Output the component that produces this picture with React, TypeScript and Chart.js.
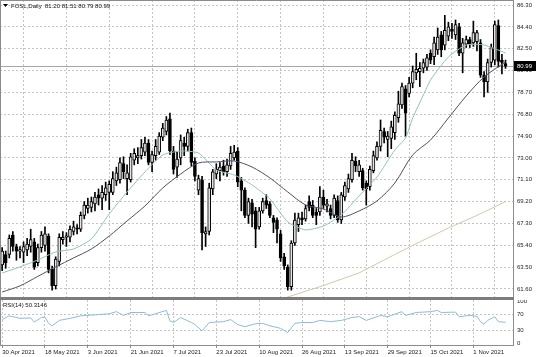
import React, { useEffect, useRef } from 'react';
import { Chart, registerables } from 'chart.js';

Chart.register(...registerables);

// ---------- data ----------
const SYMBOL = 'FOSL,Daily';

const DATE_IDX = [0, 12, 24, 36, 48, 60, 72, 84, 96, 108, 120, 132];
const DATE_LABELS = [
  '30 Apr 2021', '18 May 2021', '3 Jun 2021', '21 Jun 2021', '7 Jul 2021', '23 Jul 2021',
  '10 Aug 2021', '26 Aug 2021', '13 Sep 2021', '29 Sep 2021', '15 Oct 2021', '1 Nov 2021',
];

const OPEN = [
  63.7, 64.6, 64.6, 66.3, 65.3, 64.9, 64.8, 65.0, 65.3, 65.7,
  63.9, 65.2, 65.4, 66.2, 63.3, 61.9, 64.0, 65.9, 66.1, 66.1,
  66.6, 66.9, 66.8, 68.0, 68.6, 68.7, 69.0, 69.8, 69.5, 69.8,
  70.0, 70.0, 71.0, 71.1, 72.5, 71.2, 71.1, 72.8, 73.0, 73.2,
  73.5, 74.3, 72.6, 73.2, 73.5, 74.8, 75.3, 76.4, 73.6, 72.2,
  73.0, 74.3, 74.0, 75.2, 72.7, 70.2, 71.1, 66.4, 66.6, 70.3,
  71.6, 71.9, 72.3, 71.8, 72.3, 73.0, 73.6, 71.0, 70.2, 68.0,
  69.1, 68.4, 67.0, 68.4, 69.3, 69.0, 67.8, 67.6, 66.4, 64.4,
  63.5, 61.8, 65.6, 67.2, 67.8, 67.7, 69.2, 68.9, 68.3, 68.3,
  69.6, 68.8, 68.6, 68.0, 69.3, 67.6, 69.6, 70.3, 71.1, 72.7,
  71.8, 71.9, 70.8, 70.5, 71.9, 73.0, 74.0, 75.3, 74.6, 74.7,
  75.2, 76.5, 77.6, 79.0, 78.6, 79.5, 80.4, 80.5, 80.8, 80.9,
  82.1, 81.8, 82.4, 83.7, 82.8, 83.6, 84.2, 83.7, 84.4, 82.1,
  82.9, 83.3, 83.0, 83.1, 83.0, 80.2, 79.6, 81.3, 81.5, 84.5,
  81.5, 81.2,
];
const HIGH = [
  65.2, 64.9, 66.3, 66.6, 65.5, 65.3, 65.7, 66.0, 66.8, 66.0,
  65.5, 66.6, 67.0, 66.4, 63.6, 64.4, 66.4, 66.6, 66.5, 67.1,
  67.5, 67.2, 68.3, 69.2, 69.5, 69.6, 70.0, 70.3, 70.6, 70.9,
  71.0, 71.8, 72.2, 73.0, 73.1, 72.4, 73.4, 73.8, 73.9, 74.6,
  74.8, 74.6, 73.6, 74.6, 75.2, 76.0, 76.6, 76.9, 74.0, 73.5,
  75.0, 74.8, 75.5, 75.6, 73.0, 71.5, 71.4, 67.0, 70.8, 72.0,
  72.5, 72.6, 72.8, 72.9, 74.0, 74.1, 73.9, 71.3, 70.4, 69.5,
  69.4, 68.7, 68.7, 69.5, 69.8, 69.2, 68.0, 67.8, 66.7, 64.7,
  63.7, 65.8, 68.2, 68.2, 68.3, 68.9, 69.7, 69.3, 68.6, 70.5,
  70.2, 69.4, 68.9, 69.8, 69.7, 70.0, 70.9, 71.6, 73.4, 73.1,
  72.8, 72.1, 71.0, 72.3, 73.6, 74.4, 76.3, 75.6, 75.3, 76.2,
  77.0, 78.8, 79.5, 79.3, 80.0, 81.0, 82.1, 81.3, 81.6, 82.0,
  82.4, 83.5, 84.3, 84.0, 85.4, 84.8, 84.7, 85.0, 84.7, 83.4,
  83.6, 83.5, 84.9, 84.1, 83.3, 80.5, 81.6, 82.9, 84.9, 85.0,
  82.0, 81.51,
];
const LOW = [
  63.2, 63.4, 64.3, 64.9, 64.1, 64.3, 63.9, 64.5, 64.8, 63.3,
  63.6, 64.8, 64.9, 63.0, 61.5, 61.6, 63.6, 65.5, 65.3, 65.7,
  66.3, 66.4, 66.6, 67.7, 68.2, 68.3, 68.4, 68.9, 68.5, 69.3,
  68.5, 69.8, 70.6, 70.8, 71.2, 69.8, 70.9, 72.4, 72.5, 72.9,
  73.2, 72.4, 71.8, 72.8, 73.3, 74.5, 75.0, 73.3, 71.6, 71.3,
  72.4, 73.2, 73.6, 72.3, 71.0, 69.8, 65.0, 65.3, 66.3, 69.8,
  71.2, 71.0, 71.5, 71.4, 72.0, 72.8, 70.5, 68.4, 67.8, 67.3,
  67.0, 65.2, 66.8, 68.2, 68.6, 67.8, 66.5, 65.6, 64.0, 63.3,
  61.5, 61.5, 65.4, 66.6, 67.2, 67.5, 68.4, 67.8, 67.2, 68.0,
  68.6, 68.3, 67.7, 67.8, 67.4, 67.3, 69.3, 70.0, 70.9, 71.8,
  71.4, 70.2, 68.9, 70.2, 71.7, 72.8, 73.6, 74.3, 73.1, 73.8,
  74.6, 76.1, 77.3, 74.9, 78.3, 79.1, 79.8, 79.2, 80.4, 80.6,
  81.2, 81.1, 82.0, 81.8, 82.4, 83.2, 83.4, 83.3, 81.9, 80.4,
  82.6, 82.6, 82.7, 82.3, 80.0, 78.3, 78.7, 80.9, 81.1, 80.9,
  80.3, 80.79,
];
const CLOSE = [
  64.9, 63.9, 66.0, 65.3, 64.9, 64.95, 65.3, 65.5, 65.9, 63.5,
  65.2, 66.3, 66.4, 63.3, 61.9, 64.2, 66.1, 66.1, 66.2, 66.8,
  67.0, 66.8, 68.0, 68.9, 68.9, 69.2, 69.6, 69.5, 70.0, 70.4,
  70.7, 71.2, 71.7, 72.6, 71.8, 71.7, 73.1, 73.4, 73.2, 73.9,
  74.3, 72.6, 73.3, 74.0, 74.9, 75.6, 76.3, 73.6, 72.0, 72.9,
  74.5, 74.0, 75.2, 72.6, 71.4, 71.2, 66.5, 66.6, 70.4, 71.8,
  72.0, 72.2, 71.8, 72.4, 73.4, 73.5, 70.9, 70.2, 68.0, 69.2,
  68.1, 66.8, 68.4, 69.2, 68.9, 68.0, 67.4, 66.8, 64.3, 63.6,
  61.8, 65.6, 67.6, 67.8, 67.6, 68.6, 68.7, 68.0, 68.0, 69.6,
  68.9, 69.0, 68.0, 69.5, 67.6, 69.8, 70.6, 71.2, 72.8, 72.3,
  72.4, 70.4, 70.3, 72.0, 73.2, 74.0, 75.4, 74.8, 74.9, 75.7,
  76.7, 77.7, 79.2, 76.9, 79.5, 80.5, 80.7, 80.8, 81.3, 81.7,
  81.5, 83.0, 83.5, 82.4, 84.1, 84.4, 84.0, 84.6, 82.1, 83.0,
  83.3, 82.9, 83.9, 83.9, 80.2, 79.6, 81.3, 82.6, 84.6, 81.4,
  81.3, 80.99,
];

// fast moving average (light teal)
const FAST_MA_IDX = [0, 5, 10, 15, 20, 25, 30, 35, 40, 45, 50, 55, 60, 65, 70, 75, 80, 85, 90, 95, 100, 105, 110, 113, 115, 118, 120, 125, 130, 135, 141];
const FAST_MA = [62.99, 63.52, 64.13, 64.82, 65.08, 65.95, 68.13, 70.04, 71.78, 73.26, 73.6, 73.43, 71.95, 71.52, 70.65, 69.43, 67.43, 66.74, 67.08, 68.04, 69.69, 71.34, 73.69, 74.73, 76.47, 78.47, 79.78, 81.78, 82.82, 82.82, 82.13];

// slow moving average (dark)
const SLOW_MA_IDX = [0, 5, 10, 15, 20, 25, 30, 35, 40, 45, 50, 55, 60, 65, 70, 75, 80, 85, 90, 95, 100, 105, 110, 115, 120, 125, 130, 135, 141];
const SLOW_MA = [61.34, 61.87, 62.7, 63.52, 64.3, 65.08, 66.21, 67.52, 68.82, 70.39, 71.6, 72.56, 72.65, 72.73, 72.21, 71.26, 70.04, 68.91, 68.56, 67.87, 68.39, 69.26, 70.82, 73.26, 74.56, 76.47, 78.39, 80.04, 81.34];

// long moving average (tan)
const LONG_MA_IDX = [70, 80, 90, 100, 110, 117, 125, 133, 141];
const LONG_MA = [60.0, 60.9, 61.9, 63.0, 64.6, 65.7, 66.9, 68.0, 69.2];

// RSI(14)
const RSI_IDX = [0, 2, 5, 8, 9, 11, 12, 13, 14, 16, 19, 22, 27, 30, 32, 34, 36, 40, 41, 46, 47, 48, 50, 53, 54, 56, 58, 62, 64, 66, 68, 71, 73, 75, 78, 80, 82, 84, 87, 89, 92, 95, 98, 100, 102, 106, 108, 112, 113, 116, 120, 122, 123, 127, 128, 131, 133, 134, 135, 136, 138, 139, 141];
const RSI_VAL = [57, 66, 60, 61, 51, 62, 63, 48, 42, 55, 60, 66, 69, 71, 76, 67, 74, 74, 66, 79, 54, 50, 62, 50, 45, 30, 50, 52, 57, 45, 40, 47, 48, 42, 36, 26, 48, 50, 50, 55, 52, 55, 62, 64, 55, 67, 64, 76, 67, 74, 76, 79, 74, 75, 64, 67, 65, 52, 46, 55, 64, 52, 50.3146];
const RSI_LAST = '50.3146';

const PRICE_TICKS = [61.6, 63.5, 65.4, 67.3, 69.2, 71.1, 73.0, 74.9, 76.8, 78.7, 80.6, 82.5, 84.4, 86.3];
const RSI_TICKS = [0, 30, 70, 100];

// ---------- styling ----------
const FONT = "'Liberation Sans', Arial, sans-serif";
const W = 536;
const MAIN_H = 297;
const RSI_H = 57;
const AXIS_W = 23;
const X_MIN = -0.6;
const X_MAX = 143.1;
const GRID = '#c4c4c4';
const FRAME = '#8c8c8c';

const toPts = (idx: number[], vals: number[]) => idx.map((x, k) => ({ x, y: vals[k] }));

export default function App() {
  const mainRef = useRef<HTMLCanvasElement | null>(null);
  const rsiRef = useRef<HTMLCanvasElement | null>(null);

  useEffect(() => {
    document.body.style.margin = '0';
    const n = CLOSE.length;
    const last = n - 1;
    const bull = CLOSE.map((c, i) => c >= OPEN[i]);

    const fixY = (w: number) => (s: any) => {
      s.width = w;
      s.paddingTop = 0;
      s.paddingBottom = 0;
    };

    const mainDecor = {
      id: 'mainDecor',
      beforeDatasetsDraw(chart: any) {
        const { ctx, chartArea, scales } = chart;
        const py = Math.round(scales.y.getPixelForValue(CLOSE[last])) + 0.5;
        ctx.save();
        ctx.strokeStyle = '#a8a8a8';
        ctx.lineWidth = 1;
        ctx.beginPath();
        ctx.moveTo(chartArea.left, py);
        ctx.lineTo(chartArea.right, py);
        ctx.stroke();
        ctx.restore();
      },
      afterDraw(chart: any) {
        const { ctx, chartArea, scales } = chart;
        ctx.save();
        ctx.strokeStyle = FRAME;
        ctx.lineWidth = 1;
        ctx.beginPath();
        ctx.moveTo(0, 0.5);
        ctx.lineTo(chartArea.right, 0.5);
        ctx.moveTo(0.5, 0);
        ctx.lineTo(0.5, chartArea.bottom);
        ctx.stroke();
        // last price tag
        const py = scales.y.getPixelForValue(CLOSE[last]);
        ctx.fillStyle = '#000';
        ctx.fillRect(chartArea.right + 1, Math.round(py) - 5, W - chartArea.right - 1, 10);
        ctx.fillStyle = '#fff';
        ctx.font = `6px ${FONT}`;
        ctx.textBaseline = 'middle';
        ctx.textAlign = 'left';
        ctx.fillText(CLOSE[last].toFixed(2), chartArea.right + 4, Math.round(py));
        // title
        ctx.fillStyle = '#000';
        ctx.beginPath();
        ctx.moveTo(3, 4);
        ctx.lineTo(8, 4);
        ctx.lineTo(5.5, 7);
        ctx.closePath();
        ctx.fill();
        ctx.fillStyle = '#111';
        ctx.fillText(
          `${SYMBOL}  ${OPEN[last].toFixed(2)} ${HIGH[last].toFixed(2)} ${LOW[last].toFixed(2)} ${CLOSE[last].toFixed(2)}`,
          11,
          6
        );
        ctx.restore();
      },
    };

    const main = new Chart(mainRef.current as HTMLCanvasElement, {
      type: 'bar',
      data: {
        datasets: [
          {
            type: 'line',
            data: toPts(LONG_MA_IDX, LONG_MA),
            borderColor: '#d6c6a6',
            borderWidth: 1,
            pointRadius: 0,
            order: 0,
          } as any,
          {
            type: 'line',
            data: toPts(SLOW_MA_IDX, SLOW_MA),
            borderColor: '#4e5068',
            borderWidth: 1,
            pointRadius: 0,
            tension: 0.3,
            order: 0,
          } as any,
          {
            type: 'line',
            data: toPts(FAST_MA_IDX, FAST_MA),
            borderColor: '#8ec4b8',
            borderWidth: 1,
            pointRadius: 0,
            tension: 0.2,
            order: 0,
          } as any,
          {
            type: 'bar',
            data: CLOSE.map((_, i) => ({ x: i, y: [LOW[i], HIGH[i]] })),
            backgroundColor: '#000',
            barThickness: 1,
            grouped: false,
            order: 3,
          } as any,
          {
            type: 'bar',
            data: CLOSE.map((c, i) => ({ x: i, y: [OPEN[i], c] })),
            backgroundColor: bull.map((b) => (b ? '#e4e4e4' : '#000')),
            borderColor: '#000',
            borderWidth: 1,
            borderSkipped: false,
            barThickness: 3,
            minBarLength: 1.5,
            grouped: false,
            order: 2,
          } as any,
        ],
      },
      options: {
        animation: false,
        responsive: false,
        maintainAspectRatio: false,
        devicePixelRatio: 1,
        layout: { padding: 0 },
        plugins: { legend: { display: false }, tooltip: { enabled: false } },
        scales: {
          x: {
            type: 'linear',
            min: X_MIN,
            max: X_MAX,
            offset: false,
            ticks: { display: false },
            grid: { color: GRID, drawTicks: false },
            border: { display: false, dash: [2, 2] },
            afterBuildTicks: (s: any) => {
              s.ticks = DATE_IDX.map((v) => ({ value: v }));
            },
            afterFit: (s: any) => {
              s.height = 0;
              s.paddingLeft = 0;
              s.paddingRight = 0;
            },
          },
          y: {
            position: 'right',
            min: 60.904,
            max: 86.735,
            afterBuildTicks: (s: any) => {
              s.ticks = PRICE_TICKS.map((v) => ({ value: v }));
            },
            ticks: {
              font: { family: FONT, size: 6 },
              color: '#222',
              padding: 4,
              callback: (v: any) => Number(v).toFixed(2),
            },
            grid: { color: GRID, drawTicks: false },
            border: { display: true, color: FRAME, dash: [2, 2] },
            afterFit: fixY(AXIS_W),
          },
        },
      } as any,
      plugins: [mainDecor],
    });

    const rsiDecor = {
      id: 'rsiDecor',
      afterDraw(chart: any) {
        const { ctx, chartArea } = chart;
        ctx.save();
        ctx.strokeStyle = FRAME;
        ctx.lineWidth = 1;
        ctx.beginPath();
        ctx.moveTo(0.5, 0);
        ctx.lineTo(0.5, chartArea.bottom);
        ctx.stroke();
        ctx.fillStyle = '#111';
        ctx.font = `6px ${FONT}`;
        ctx.textBaseline = 'middle';
        ctx.textAlign = 'left';
        ctx.fillText(`RSI(14) ${RSI_LAST}`, 3, 5);
        ctx.restore();
      },
    };

    const rsi = new Chart(rsiRef.current as HTMLCanvasElement, {
      type: 'line',
      data: {
        datasets: [
          {
            data: toPts(RSI_IDX, RSI_VAL),
            borderColor: '#8cbcd8',
            borderWidth: 1,
            pointRadius: 0,
          },
        ],
      },
      options: {
        animation: false,
        responsive: false,
        maintainAspectRatio: false,
        devicePixelRatio: 1,
        layout: { padding: 0 },
        plugins: { legend: { display: false }, tooltip: { enabled: false } },
        scales: {
          x: {
            type: 'linear',
            min: X_MIN,
            max: X_MAX,
            offset: false,
            afterBuildTicks: (s: any) => {
              s.ticks = DATE_IDX.map((v) => ({ value: v }));
            },
            ticks: {
              align: 'start',
              autoSkip: false,
              maxRotation: 0,
              font: { family: FONT, size: 6 },
              color: '#222',
              padding: 1,
              callback: (v: any) => {
                const k = DATE_IDX.indexOf(Number(v));
                return k >= 0 ? DATE_LABELS[k] : '';
              },
            },
            grid: { color: GRID, drawTicks: true, tickLength: 3, tickColor: FRAME, tickBorderDash: [] },
            border: { display: true, color: FRAME, dash: [2, 2] },
            afterFit: (s: any) => {
              s.height = RSI_H - 45;
              s.paddingLeft = 0;
              s.paddingRight = 0;
            },
          },
          y: {
            position: 'right',
            min: -4,
            max: 104,
            afterBuildTicks: (s: any) => {
              s.ticks = RSI_TICKS.map((v) => ({ value: v }));
            },
            ticks: {
              font: { family: FONT, size: 6 },
              color: '#222',
              padding: 4,
              callback: (v: any) => String(v),
            },
            grid: {
              drawTicks: false,
              color: (ctx: any) => (ctx.tick && (ctx.tick.value === 30 || ctx.tick.value === 70) ? GRID : 'rgba(0,0,0,0)'),
            },
            border: { display: true, color: FRAME, dash: [2, 2] },
            afterFit: fixY(AXIS_W),
          },
        },
      } as any,
      plugins: [rsiDecor],
    });

    return () => {
      main.destroy();
      rsi.destroy();
    };
  }, []);

  return (
    <div style={{ position: 'relative', width: W, height: MAIN_H + 3 + RSI_H, background: '#fff', overflow: 'hidden' }}>
      <canvas ref={mainRef} width={W} height={MAIN_H} style={{ position: 'absolute', left: 0, top: 0 }} />
      <div style={{ position: 'absolute', left: 0, top: MAIN_H, width: W - AXIS_W + 1, height: 3, background: '#7c7c7c' }} />
      <canvas ref={rsiRef} width={W} height={RSI_H} style={{ position: 'absolute', left: 0, top: MAIN_H + 3 }} />
    </div>
  );
}
